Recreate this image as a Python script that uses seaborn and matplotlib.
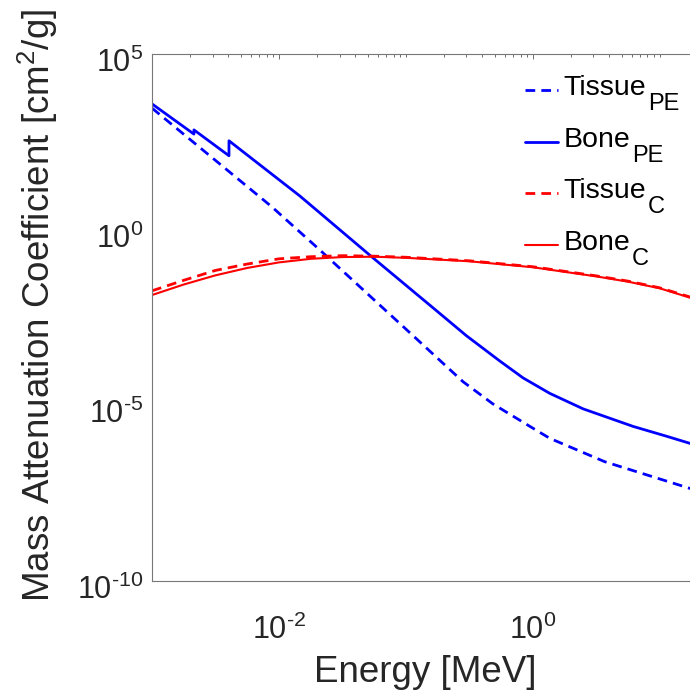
import numpy as np
import pandas as pd
import matplotlib
matplotlib.use("Agg")
import matplotlib.pyplot as plt
import matplotlib.ticker as mticker
import matplotlib.transforms as mtransforms
from matplotlib.lines import Line2D
from matplotlib.legend_handler import HandlerLine2D
import seaborn as sns

# ---------------- data ----------------
# Photoelectric, bone (with P and Ca K-edges)
energy_bone_pe = [1.0e-3, 2.14e-3, 2.14e-3, 4.04e-3, 4.04e-3, 1.46e-2, 5.37e-2,
                  0.163, 0.30, 0.55, 0.838, 1.36, 2.49, 6.17, 11.3, 17.2, 20.0]
mu_bone_pe = [3.80e3, 525, 692, 127, 339, 9.12, 0.170,
              6.03e-3, 9.55e-4, 1.82e-4, 6.03e-5, 2.19e-5, 7.94e-6, 2.51e-6,
              1.32e-6, 8.32e-7, 7.08e-7]

# Photoelectric, tissue
energy_tissue_pe = [1.0e-3, 8.77e-3, 2.10e-2, 0.10, 0.282, 0.486, 1.0, 1.36,
                    3.69, 17.2, 20.0]
mu_tissue_pe = [2.88e3, 4.50, 0.264, 1.48e-3, 4.70e-5, 1.09e-5, 2.24e-6,
                1.15e-6, 2.48e-7, 4.34e-8, 3.70e-8]

# Compton
energy_c = [1.0e-3, 1.78e-3, 3.16e-3, 5.62e-3, 1.0e-2, 1.78e-2, 3.16e-2,
            5.62e-2, 0.10, 0.316, 1.0, 3.16, 5.62, 10.0, 17.2, 20.0]
mu_bone_c = [0.0138, 0.0275, 0.0501, 0.0813, 0.117, 0.148, 0.166, 0.170,
             0.158, 0.126, 0.0851, 0.0468, 0.0331, 0.0214, 0.0117, 0.0100]
mu_tissue_c = [0.0182, 0.0363, 0.0692, 0.105, 0.148, 0.170, 0.182, 0.176,
               0.164, 0.130, 0.0881, 0.0484, 0.0343, 0.0221, 0.0122, 0.0104]

label_names = ["Tissue", "Bone", "Tissue", "Bone"]
label_subs = ["PE", "PE", "C", "C"]

# ---------------- style ----------------
sns.set_theme(style="white")
plt.rcParams["font.family"] = ["Liberation Sans", "DejaVu Sans"]
plt.rcParams["mathtext.default"] = "regular"
plt.rcParams["axes.unicode_minus"] = False
text_color = "#262626"

fig = plt.figure(figsize=(6.9, 6.93), dpi=100)
W, H = 690, 693
left, right, top, bottom = 152, 698, 54, 581
ax = fig.add_axes([left / W, (H - bottom) / H, (right - left) / W, (bottom - top) / H])

series = [
    (energy_tissue_pe, mu_tissue_pe, "blue", (0, (3.5, 2.2)), 2.0),
    (energy_bone_pe, mu_bone_pe, "blue", "-", 2.0),
    (energy_c, mu_tissue_c, "red", (0, (3.5, 2.2)), 2.0),
    (energy_c, mu_bone_c, "red", "-", 1.5),
]
for (xs, ys, col, ls, lw), lab in zip(series, label_names):
    df = pd.DataFrame({"E": xs, "mu": ys})
    sns.lineplot(data=df, x="E", y="mu", ax=ax, color=col, linestyle=ls,
                 linewidth=lw, label=lab, estimator=None, sort=False)

ax.set_xscale("log")
ax.set_yscale("log")
ax.set_xlim(1e-3, 20)
ax.set_ylim(1e-10, 1e5)

ax.yaxis.set_major_locator(mticker.FixedLocator([1e-10, 1e-5, 1e0, 1e5]))
ax.yaxis.set_minor_locator(mticker.FixedLocator([10.0 ** k for k in range(-10, 6)]))
ax.xaxis.set_major_locator(mticker.FixedLocator([1e-2, 1e0]))
xminor = [m * 10.0 ** k for k in range(-3, 2) for m in range(1, 10)]
ax.xaxis.set_minor_locator(mticker.FixedLocator(xminor))


def fmt_func(v, p):
    e = int(round(np.log10(v)))
    s = str(abs(e))
    if e < 0:
        s = "\u2010" + s
    return r"$\mathregular{10^{%s}}$" % s


fmt = mticker.FuncFormatter(fmt_func)
ax.xaxis.set_major_formatter(fmt)
ax.yaxis.set_major_formatter(fmt)
ax.xaxis.set_minor_formatter(mticker.NullFormatter())
ax.yaxis.set_minor_formatter(mticker.NullFormatter())

ax.tick_params(which="both", direction="in", top=True, right=True,
               colors="#555555", labelcolor=text_color, labelsize=22)
ax.tick_params(which="major", length=3.8, width=0.6)
ax.tick_params(which="minor", length=2.3, width=0.6)
ax.tick_params(axis="x", which="major", pad=24)
ax.tick_params(axis="y", which="major", pad=6)
shift_down = mtransforms.ScaledTranslation(0, -6 / 100, fig.dpi_scale_trans)
for tk in ax.yaxis.get_major_ticks():
    tk.label1.set_transform(tk.label1.get_transform() + shift_down)
for sp in ax.spines.values():
    sp.set_color("#777777")
    sp.set_linewidth(0.8)

ax.set_xlabel("Energy [MeV]", fontsize=26.5, color=text_color)
ax.set_ylabel(r"Mass Attenuation Coefficient [cm$^{2}$/g]", fontsize=26.5, color=text_color)
ax.xaxis.set_label_coords(0.5, -0.141)
ax.yaxis.set_label_coords(-0.168, 0.522)


class ShiftedLine(HandlerLine2D):
    def create_artists(self, legend, orig_handle, xdescent, ydescent, width,
                       height, fontsize, trans):
        arts = super().create_artists(legend, orig_handle, xdescent, ydescent,
                                      width, height, fontsize, trans)
        for a in arts:
            a.set_ydata(np.asarray(a.get_ydata()) - 3.6)
        return arts


leg = ax.legend(loc="upper left",
                bbox_to_anchor=((525 - left) / (right - left), (bottom - 75) / (bottom - top)),
                frameon=False, fontsize=20.5, handlelength=1.16, handletextpad=0.18,
                borderaxespad=0, borderpad=0, labelspacing=0.9,
                handler_map={Line2D: ShiftedLine()})
for t in leg.get_texts():
    t.set_color("black")

fig.canvas.draw()
renderer = fig.canvas.get_renderer()
for t, sub in zip(leg.get_texts(), label_subs):
    bb = t.get_window_extent(renderer)
    fig.text(bb.x1 + 2.0, bb.y0 - 9.0, sub, fontsize=17, color="black",
             ha="left", va="baseline", transform=mtransforms.IdentityTransform())

fig.savefig("out.png", dpi=100)
